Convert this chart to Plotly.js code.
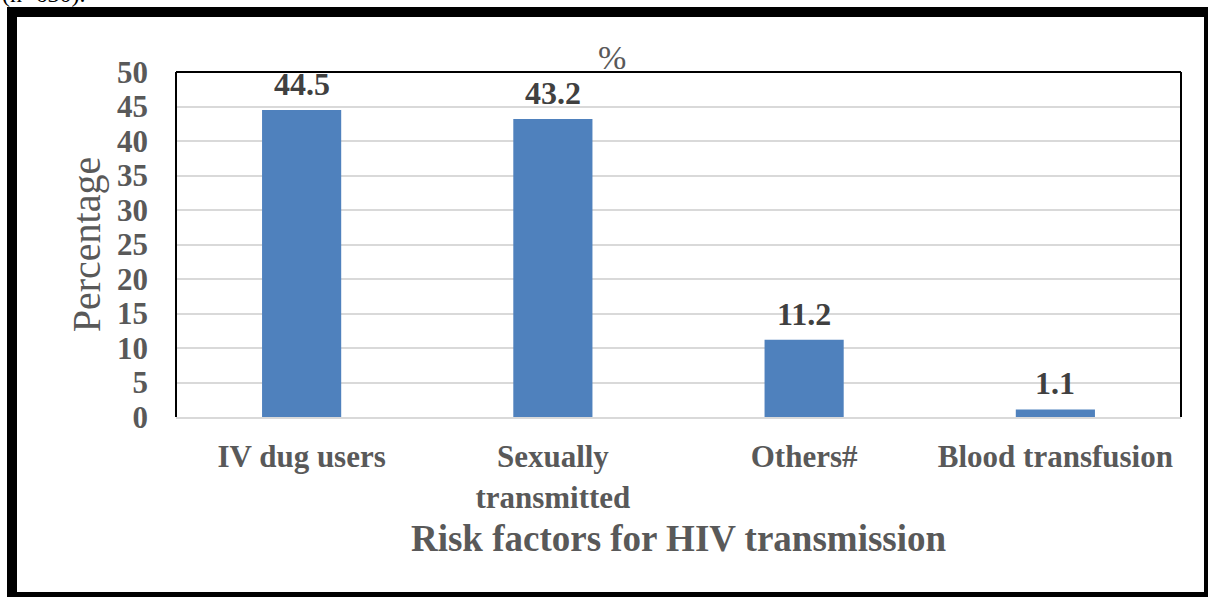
<!DOCTYPE html>
<html><head><meta charset="utf-8">
<script src="https://cdn.plot.ly/plotly-3.0.1.min.js"></script>
<style>
html,body{margin:0;padding:0;overflow:hidden;background:#fff;}
#wrap{position:relative;width:1208px;height:597px;overflow:hidden;}
#chart{position:absolute;left:0;top:0;width:1208px;height:597px;}
#frame{position:absolute;left:7px;top:7px;width:1187px;height:575px;border:10px solid #000;pointer-events:none;}
</style></head>
<body>
<div id="wrap"><div id="chart"></div><div id="frame"></div></div>
<script>
const categories = ["IV dug users", "Sexually<br>transmitted", "Others#", "Blood transfusion"];
const values = [44.5, 43.2, 11.2, 1.1];
const valueLabels = ["44.5", "43.2", "11.2", "1.1"];
const yTicks = [0, 5, 10, 15, 20, 25, 30, 35, 40, 45, 50];

const font = "Liberation Serif, Times New Roman, serif";
const trace = {
  type: "bar", x: categories, y: values,
  marker: {color: "#4F81BD"}, hoverinfo: "none"
};
const labelAnnotations = categories.map((c, i) => ({
  x: c, y: values[i], xref: "x", yref: "y", text: valueLabels[i],
  showarrow: false, xanchor: "center", yanchor: "bottom", yshift: 6,
  font: {family: font, size: 32, color: "#404040", weight: "bold"}
}));
const layout = {
  width: 1208, height: 597,
  margin: {l: 176, r: 27, t: 72, b: 180},
  paper_bgcolor: "#fff", plot_bgcolor: "#fff",
  bargap: 0.685,
  showlegend: false,
  font: {family: font},
  title: {text: "%", x: 0.434, xref: "paper", xanchor: "center", y: 0.905, yanchor: "middle",
          font: {family: font, size: 34, color: "#595959"}},
  xaxis: {
    type: "category", showgrid: false, showline: true, linecolor: "#d9d9d9", linewidth: 2,
    ticks: "", ticklabelstandoff: 11, tickfont: {family: font, size: 31, color: "#595959", weight: "bold"},
    mirror: false,
    title: {text: "Risk factors for HIV transmission", standoff: 12,
            font: {family: font, size: 37, color: "#595959", weight: "bold"}}
  },
  yaxis: {
    range: [0, 50], tickvals: yTicks, ticktext: yTicks.map(String),
    showgrid: true, gridcolor: "#d9d9d9", gridwidth: 2, zeroline: false,
    showline: false, ticks: "", ticklabelstandoff: 27,
    tickfont: {family: font, size: 31, color: "#595959", weight: "bold"},
    title: {text: "Percentage", standoff: 4, font: {family: font, size: 40, color: "#595959"}}
  },
  shapes: [
    {type: "line", xref: "paper", yref: "paper", x0: 0, x1: 1, y0: 1, y1: 1, line: {color: "#000", width: 2}},
    {type: "line", xref: "paper", yref: "paper", x0: 0, x1: 0, y0: 0, y1: 1, line: {color: "#000", width: 2}},
    {type: "line", xref: "paper", yref: "paper", x0: 1, x1: 1, y0: 0, y1: 1, line: {color: "#000", width: 2}}
  ],
  annotations: labelAnnotations.concat([
    {text: "(n=630).", xref: "paper", yref: "paper", x: -176/1005, y: 1 + 78/345,
     xanchor: "left", yanchor: "middle", showarrow: false,
     font: {family: font, size: 24, color: "#000"}}
  ])
};
Plotly.newPlot("chart", [trace], layout, {displayModeBar: false, staticPlot: true});
</script>
</body></html>
